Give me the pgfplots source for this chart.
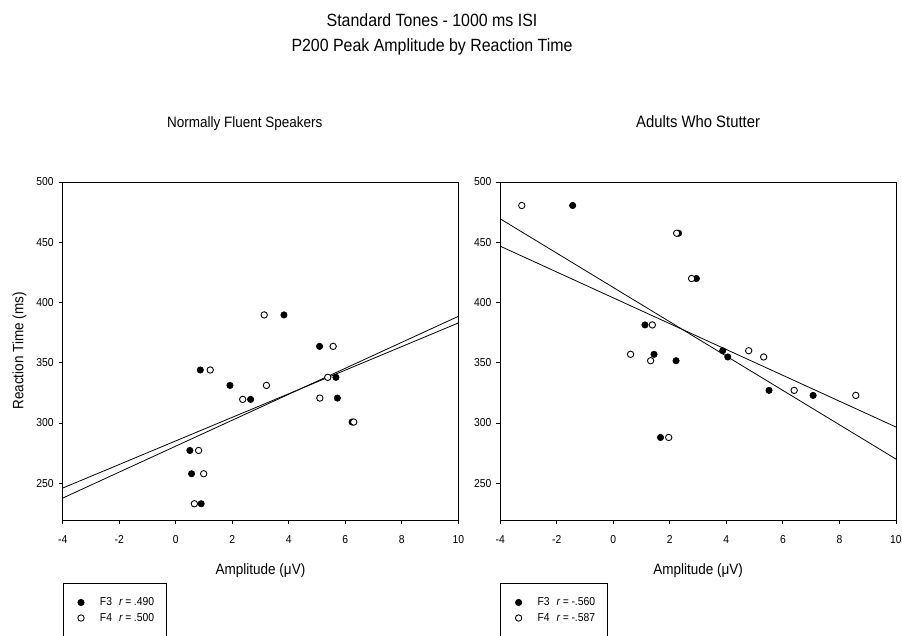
\documentclass[border=0pt]{standalone}
\usepackage{fontspec}
\setmainfont{Liberation Sans}[FakeStretch=0.9]
\usepackage{pgfplots}
\pgfplotsset{compat=1.18}

\newcommand{\rr}[1]{F#1\hspace{7pt}\textit{r}\hspace{2.5pt}=\hspace{2.5pt}}

\pgfplotsset{
  panel/.style={
    scale only axis, width=395.6pt, height=338pt,
    anchor=south west,
    xmin=-4, xmax=10, ymin=219.5, ymax=500,
    xtick={-4,-2,...,10}, ytick={250,300,...,500},
    tick align=outside, tick pos=left, major tick length=4pt,
    axis line style={line width=0.8pt},
    every tick/.style={black, line width=0.8pt},
    tick label style={font=\fontsize{11.5}{13}\selectfont},
    /pgf/number format/assume math mode=true,
    xticklabel style={yshift=-8pt},
    yticklabel style={xshift=-1.5pt},
    xlabel={Amplitude (μV)},
    xlabel style={at={(axis description cs:0.5,-0.15)}, anchor=center,
      font=\fontsize{15}{18}\selectfont},
    legend style={at={(axis description cs:0,-0.1876)}, anchor=north west,
      draw=black, line width=0.6pt, font=\fontsize{11.5}{13}\selectfont,
      inner xsep=11pt, inner ysep=13pt, row sep=4pt,
      nodes={inner sep=1pt}},
    legend cell align=left,
    legend image code/.code={
      \path[draw=none, fill=none] (0pt,-3pt) rectangle (25pt,3pt);
      \draw[##1] plot coordinates {(7pt,0pt)};},
  },
  f3/.style={only marks, mark=*, mark size=3.2pt,
    mark options={fill=black, draw=black, line width=0.6pt}},
  f4/.style={only marks, mark=*, mark size=3.2pt,
    mark options={fill=white, draw=black, line width=0.9pt}},
  fit/.style={black, line width=0.8pt, no marks, forget plot},
}

\begin{document}
\begin{tikzpicture}
\path[use as bounding box] (0pt,0pt) rectangle (902pt,-635pt);

\node[anchor=base, font=\fontsize{17.7}{20}\selectfont] at (432pt,-26.7pt)
  {Standard Tones - 1000 ms ISI};
\node[anchor=base, font=\fontsize{17.7}{20}\selectfont] at (432pt,-51.7pt)
  {P200 Peak Amplitude by Reaction Time};

% normally fluent speakers
\begin{axis}[panel, at={(62.7pt,-520pt)},
  title={Normally Fluent Speakers},
  title style={at={(axis description cs:0.46,1.154)}, anchor=center,
    font=\fontsize{15}{18}\selectfont},
  ylabel={Reaction Time (ms)},
  ylabel style={at={(axis description cs:-0.109,0.5)}, anchor=center,
    font=\fontsize{15}{18}\selectfont}]
\addplot[fit] coordinates {(-4,237.7) (10,388.5)};
\addplot[fit] coordinates {(-4,246.0) (10,383.0)};
\addplot[f3] coordinates {
  (3.83,389.7) (5.09,363.6) (0.87,344.0) (1.92,331.2) (2.65,319.6)
  (5.67,337.9) (5.72,320.7) (0.50,277.2) (0.56,257.9) (0.90,233.0)
  (6.24,300.8)
};
\addlegendentry{\rr{3}.490}
\addplot[f4] coordinates {
  (3.13,389.7) (5.57,363.6) (1.22,344.0) (3.21,331.2) (2.37,319.6)
  (5.38,337.9) (5.10,320.7) (0.81,277.2) (0.99,257.9) (0.66,233.0)
  (6.30,300.8)
};
\addlegendentry{\rr{4}.500}
\end{axis}

% adults who stutter
\begin{axis}[panel, at={(500.3pt,-520pt)},
  title={Adults Who Stutter},
  title style={at={(axis description cs:0.5,1.16)}, anchor=center,
    font=\fontsize{16.5}{18}\selectfont}]
\addplot[fit] coordinates {(-4,469.4) (10,270.1)};
\addplot[fit] coordinates {(-4,446.7) (10,296.7)};
\addplot[f3] coordinates {
  (-1.44,480.5) (2.31,457.5) (2.94,419.9) (1.12,381.4) (1.44,357.0)
  (2.22,351.7) (3.87,360.0) (4.05,354.8) (5.51,327.1) (7.07,322.9)
  (1.67,288.0)
};
\addlegendentry{\rr{3}-.560}
\addplot[f4] coordinates {
  (-3.24,480.5) (2.24,457.5) (2.77,419.9) (1.38,381.4) (0.61,357.0)
  (1.32,351.7) (4.79,360.0) (5.32,354.8) (6.40,327.1) (8.58,322.9)
  (1.96,288.0)
};
\addlegendentry{\rr{4}-.587}
\end{axis}
\end{tikzpicture}
\end{document}
